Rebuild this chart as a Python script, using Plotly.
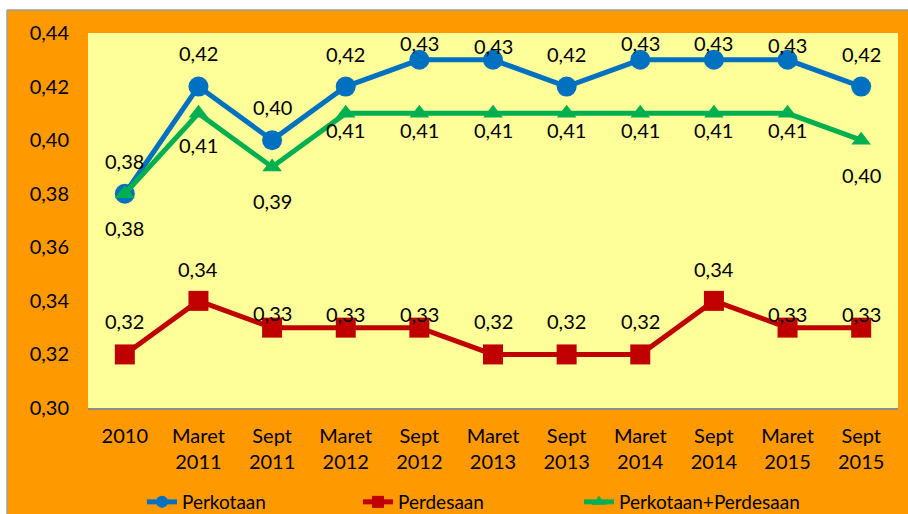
import plotly.graph_objects as go

# Periods (two-line tick labels)
periods = ["2010", "Maret<br>2011", "Sept<br>2011", "Maret<br>2012", "Sept<br>2012",
           "Maret<br>2013", "Sept<br>2013", "Maret<br>2014", "Sept<br>2014",
           "Maret<br>2015", "Sept<br>2015"]

# Gini ratio per area
perkotaan = [0.38, 0.42, 0.40, 0.42, 0.43, 0.43, 0.42, 0.43, 0.43, 0.43, 0.42]
perdesaan = [0.32, 0.34, 0.33, 0.33, 0.33, 0.32, 0.32, 0.32, 0.34, 0.33, 0.33]
gabungan = [0.38, 0.41, 0.39, 0.41, 0.41, 0.41, 0.41, 0.41, 0.41, 0.41, 0.40]

y_ticks = [0.30, 0.32, 0.34, 0.36, 0.38, 0.40, 0.42, 0.44]

# Label offsets in pixels (positive = above the point)
shift_kota = [33, 34, 33, 33, 17, 14, 33, 17, 17, 15, 33]
shift_desa = [33, 32, 15, 14, 14, 33, 33, 33, 32, 14, 14]
shift_gab = [-34, -32, -34, -17, -17, -17, -17, -17, -17, -17, -35]

BLUE, RED, GREEN = "#0070C0", "#C00000", "#00B050"
ORANGE, YELLOW = "#FF9900", "#FFFF99"
FONT = "Lato"
FS = 20

# plot-area geometry in pixels
W, H = 908, 514
L, R, T, B = 88, 10, 33, 106
PW, PH = W - L - R, H - T - B


def px_x(px):
    return (px - L) / PW


def px_y(py):
    return (H - B - py) / PH


def fmt(v):
    return f"{v:.2f}".replace(".", ",")


fig = go.Figure()
fig.add_trace(go.Scatter(x=periods, y=perkotaan, name="Perkotaan", mode="lines+markers",
                         line=dict(color=BLUE, width=5),
                         marker=dict(symbol="circle", size=20, color=BLUE),
                         legend="legend"))
fig.add_trace(go.Scatter(x=periods, y=perdesaan, name="Perdesaan", mode="lines+markers",
                         line=dict(color=RED, width=5),
                         marker=dict(symbol="square", size=20, color=RED),
                         legend="legend2"))
fig.add_trace(go.Scatter(x=periods, y=gabungan, name="Perkotaan+Perdesaan", mode="lines+markers",
                         line=dict(color=GREEN, width=5),
                         marker=dict(symbol="triangle-up", size=17, color=GREEN),
                         legend="legend3"))

annotations = []
for series, shifts in ((perkotaan, shift_kota), (perdesaan, shift_desa), (gabungan, shift_gab)):
    for i, (val, sh) in enumerate(zip(series, shifts)):
        annotations.append(dict(x=i, y=val, xref="x", yref="y", text=fmt(val),
                                showarrow=False, yshift=sh,
                                font=dict(family=FONT, size=FS, color="black")))

shapes = [
    # white margin strips around the orange frame
    dict(type="rect", xref="paper", yref="paper", x0=px_x(-10), x1=px_x(W + 10),
         y0=px_y(10), y1=px_y(-10), fillcolor="white", line=dict(width=0), layer="below"),
    dict(type="rect", xref="paper", yref="paper", x0=px_x(-10), x1=px_x(7),
         y0=px_y(H + 10), y1=px_y(-10), fillcolor="white", line=dict(width=0), layer="below"),
    dict(type="line", xref="paper", yref="paper", x0=px_x(7), x1=px_x(W + 10),
         y0=px_y(10), y1=px_y(10), line=dict(color="#A0A0A0", width=1.5)),
    dict(type="line", xref="paper", yref="paper", x0=px_x(7), x1=px_x(7),
         y0=px_y(10), y1=px_y(H + 10), line=dict(color="#A0A0A0", width=1.5)),
]

legend_common = dict(orientation="h", yanchor="middle", xanchor="left", y=px_y(502),
                     bgcolor="rgba(0,0,0,0)", font=dict(family=FONT, size=19, color="black"),
                     itemsizing="constant")

fig.update_layout(
    width=W, height=H,
    margin=dict(l=L, r=R, t=T, b=B, autoexpand=False),
    paper_bgcolor=ORANGE, plot_bgcolor=YELLOW,
    separators=",.",
    font=dict(family=FONT, size=FS, color="black"),
    xaxis=dict(type="category", range=[-0.5, len(periods) - 0.5], showgrid=False,
               showline=True, linecolor="#8C8C8C", linewidth=2, ticks="",
               ticklabelstandoff=9, tickfont=dict(family=FONT, size=FS), zeroline=False,
               fixedrange=True),
    yaxis=dict(range=[0.30, 0.44], tickvals=y_ticks, tickformat=".2f", showgrid=False,
               showline=False, zeroline=False, ticks="", ticklabelstandoff=18,
               tickfont=dict(family=FONT, size=FS)),
    showlegend=True,
    legend=dict(legend_common, x=px_x(142)),
    legend2=dict(legend_common, x=px_x(358)),
    legend3=dict(legend_common, x=px_x(579)),
    annotations=annotations,
    shapes=shapes,
)

fig.write_html("out.html")
